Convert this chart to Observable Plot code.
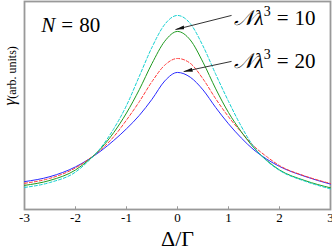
<!DOCTYPE html>
<html><head><meta charset="utf-8">
<script src="https://cdn.jsdelivr.net/npm/d3@7"></script>
<script src="https://cdn.jsdelivr.net/npm/@observablehq/plot@0.6"></script>
<style>
body{margin:0;background:#fff}
#chart svg text{font-family:"Liberation Serif","Times New Roman",serif}
</style>
</head><body><div id="chart"></div>
<script>
// detuning Δ/Γ
const delta = [-3,-2.5,-2,-1.75,-1.5,-1.25,-1,-0.75,-0.5,-0.25,0,0.25,0.5,0.75,1,1.25,1.5,1.75,2,2.5,3];
// Nλ³ = 10 (solid green, dashed cyan)
const green10 = [11.6,14.0,19.0,23.6,29.4,37.0,46.4,57.6,70.2,80.9,85.6,81.5,70.8,58.0,46.6,37.4,29.6,23.6,19.0,13.9,10.4];
const cyan10  = [10.6,13.0,18.0,23.2,29.8,38.8,50.0,64.0,78.0,89.0,93.3,89.4,78.6,65.0,52.0,40.0,30.0,23.4,18.8,13.6,9.9];
// Nλ³ = 20 (solid blue, dashed red)
const blue20  = [13.4,15.8,20.5,24.0,28.2,33.2,38.8,45.2,53.0,61.8,65.9,63.6,57.5,49.0,41.2,34.4,28.6,24.2,20.7,15.9,12.2];
const red20   = [12.6,15.0,20.0,24.0,28.8,35.0,43.0,51.8,61.5,69.4,72.6,70.3,62.8,53.2,44.6,37.2,30.4,25.4,21.1,16.1,12.5];
const xTicks = [-3,-2,-1,0,1,2,3];
const tickLabels = ["-3","-2","-1","0","1","2","3"];
const labelN = "N = 80";
const label10 = "NL10";
const label20 = "NL20";
const xLabel = "Δ/Γ";
const yLabel = "γ(arb. units)";

const rows = ys => delta.map((d, i) => ({x: d, y: ys[i]}));
const serif = "Liberation Serif";

const chart = Plot.plot({
  width: 332, height: 249,
  marginTop: 1, marginBottom: 40, marginLeft: 24, marginRight: 2,
  style: {fontFamily: serif, fontSize: "13px", background: "#fff", color: "#000"},
  x: {domain: [-3, 3]},
  y: {domain: [0, 100], axis: null},
  marks: [
    Plot.frame({stroke: "#999", strokeWidth: 1.8}),
    Plot.ruleX(xTicks, {y1: 0, y2: 1.3, stroke: "#999", strokeWidth: 1}),
    Plot.axisX(xTicks, {tickSize: 0, tickPadding: 3, tickFormat: d => tickLabels[xTicks.indexOf(d)], fontSize: 13, fontFamily: serif, label: null}),
    Plot.line(rows(blue20), {x: "x", y: "y", stroke: "#2a2aff", strokeWidth: 1, curve: "monotone-x"}),
    Plot.line(rows(red20), {x: "x", y: "y", stroke: "#ff3a3a", strokeWidth: 1, strokeDasharray: "3,2", curve: "monotone-x"}),
    Plot.line(rows(green10), {x: "x", y: "y", stroke: "#1f9a1f", strokeWidth: 1, curve: "monotone-x"}),
    Plot.line(rows(cyan10), {x: "x", y: "y", stroke: "#10d0d0", strokeWidth: 1, strokeDasharray: "3,2", curve: "monotone-x"}),
    Plot.link([{x1: 1.06, y1: 93.3, x2: -0.04, y2: 86.5}, {x1: 1.06, y1: 71.2, x2: 0.12, y2: 66.3}],
      {x1: "x1", y1: "y1", x2: "x2", y2: "y2", stroke: "#333", strokeWidth: 1}),
    Plot.text([labelN], {x: -2.67, y: 85.1, text: d => d, textAnchor: "start", lineAnchor: "bottom", fontSize: 21, fontFamily: serif}),
    Plot.text([label10], {x: 1.10, y: 88.9, text: d => d, textAnchor: "start", lineAnchor: "bottom", fontSize: 21, fontFamily: serif}),
    Plot.text([label20], {x: 1.10, y: 67.8, text: d => d, textAnchor: "start", lineAnchor: "bottom", fontSize: 21, fontFamily: serif}),
    Plot.text([xLabel], {frameAnchor: "bottom", dy: 36, text: d => d, lineAnchor: "bottom", fontSize: 22, fontFamily: serif}),
    Plot.text([yLabel], {frameAnchor: "left", dx: -10, rotate: -90, text: d => d, lineAnchor: "bottom", fontSize: 17, fontFamily: serif})
  ]
});
document.getElementById("chart").appendChild(chart);

const svg = d3.select(chart.tagName === "svg" ? chart : chart.querySelector("svg"));
const defs = svg.append("defs");
defs.append("marker").attr("id", "ah").attr("viewBox", "0 0 9 4").attr("refX", 9).attr("refY", 2)
  .attr("markerWidth", 9).attr("markerHeight", 4).attr("markerUnits", "userSpaceOnUse").attr("orient", "auto")
  .append("path").attr("d", "M0,0L9,2L0,4Z").attr("fill", "#111");
svg.selectAll('g[aria-label="link"] path, g[aria-label="link"] line').attr("marker-end", "url(#ah)");

svg.selectAll("text").each(function() {
  const t = this.textContent;
  const el = d3.select(this);
  el.style("font-family", "'Liberation Serif', serif");
  if (t === labelN) {
    el.text(null);
    el.append("tspan").attr("font-style", "italic").text("N");
    el.append("tspan").attr("dx", 6).text("=");
    el.append("tspan").attr("dx", 6).text("80");
  } else if (t === label10 || t === label20) {
    el.text(null);
    el.append("tspan").attr("font-style", "italic").text("𝒩");
    el.append("tspan").attr("font-style", "italic").attr("dx", 1).text("λ");
    el.append("tspan").attr("font-size", 14).attr("dy", -9).text("3");
    el.append("tspan").attr("dx", 6).attr("dy", 9).text("=");
    el.append("tspan").attr("dx", 6).text(t === label10 ? "10" : "20");
  } else if (t === yLabel) {
    el.text(null);
    el.append("tspan").attr("font-style", "italic").text("γ");
    el.append("tspan").attr("font-size", 12).attr("dy", 1).text("(arb. units)");
  }
});
</script>
</body></html>
